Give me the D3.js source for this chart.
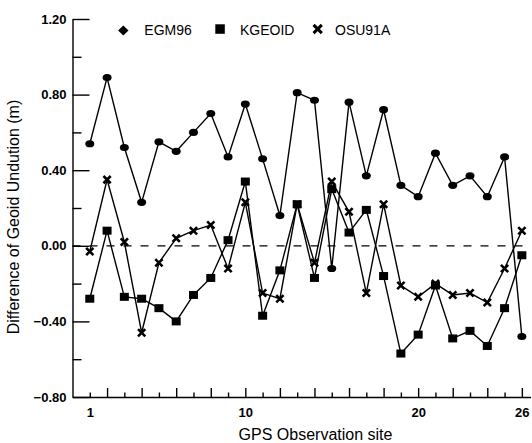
<!DOCTYPE html>
<html>
<head>
<meta charset="utf-8">
<script src="https://cdn.jsdelivr.net/npm/d3@7"></script>
<style>
  body { margin: 0; background: #fff; }
  svg { display: block; font-family: "Liberation Sans", Arial, sans-serif; }
  .axis path, .axis line { stroke: #000; stroke-width: 1.4; }
  .axis text { font-size: 13px; font-weight: bold; fill: #000; font-family: "Liberation Sans", Arial, sans-serif; }
  .line { fill: none; stroke: #000; stroke-width: 1.4; }
</style>
</head>
<body>
<svg id="chart"></svg>
<script>

// data (difference in metres, per GPS site)
const sites = d3.range(1, 27);
const egm96 = [0.54, 0.89, 0.52, 0.23, 0.55, 0.50, 0.60, 0.70, 0.47, 0.75, 0.46, 0.16, 0.81,
               0.77, -0.12, 0.76, 0.37, 0.72, 0.32, 0.26, 0.49, 0.32, 0.37, 0.26, 0.47, -0.48];
const kgeoid = [-0.28, 0.08, -0.27, -0.28, -0.33, -0.40, -0.26, -0.17, 0.03, 0.34, -0.37, -0.13, 0.22,
                -0.17, 0.30, 0.07, 0.19, -0.16, -0.57, -0.47, -0.21, -0.49, -0.45, -0.53, -0.33, -0.05];
const osu91a = [-0.03, 0.35, 0.02, -0.46, -0.09, 0.04, 0.08, 0.11, -0.12, 0.23, -0.25, -0.28, 0.22,
                -0.09, 0.34, 0.18, -0.25, 0.22, -0.21, -0.27, -0.20, -0.26, -0.25, -0.30, -0.12, 0.08];

const seriesNames = ["EGM96", "KGEOID", "OSU91A"];
const xLabelSites = [1, 10, 20, 26];
const yTicks = [-0.8, -0.6, -0.4, -0.2, 0, 0.2, 0.4, 0.6, 0.8, 1.0, 1.2];
const yLabelTicks = [-0.8, -0.4, 0, 0.4, 0.8, 1.2];

const width = 532, height = 443;

const svg = d3.select("#chart")
  .attr("width", width)
  .attr("height", height);

const xScale = d3.scaleLinear().domain([0, 26.5]).range([72.5, 530.5]);
const yScale = d3.scaleLinear().domain([-0.8, 1.2]).range([397, 19]);

// zero reference line
svg.append("line")
  .attr("x1", xScale(0)).attr("x2", xScale(26.5))
  .attr("y1", yScale(0)).attr("y2", yScale(0))
  .attr("stroke", "#000")
  .attr("stroke-width", 1.3)
  .attr("stroke-dasharray", "8,9");

// x axis, ticks point inwards, even sites get the long tick
const xAxis = svg.append("g")
  .attr("class", "x axis")
  .attr("transform", "translate(0," + yScale(-0.8) + ")")
  .call(d3.axisBottom(xScale)
    .tickValues(sites)
    .tickSizeInner(-9)
    .tickSizeOuter(0)
    .tickPadding(11)
    .tickFormat(d => xLabelSites.includes(d) ? d : ""));
xAxis.selectAll(".tick line")
  .attr("y2", d => d % 2 === 0 ? -9 : -4.5);

// y axis
const yAxis = svg.append("g")
  .attr("class", "y axis")
  .attr("transform", "translate(" + xScale(0) + ",0)")
  .call(d3.axisLeft(yScale)
    .tickValues(yTicks)
    .tickSizeInner(-17)
    .tickSizeOuter(0)
    .tickPadding(6)
    .tickFormat(d => yLabelTicks.some(v => Math.abs(v - d) < 1e-9) ? d3.format(".2f")(d) : ""));
yAxis.selectAll(".tick line")
  .attr("x2", d => yLabelTicks.some(v => Math.abs(v - d) < 1e-9) ? 17 : 9);

const line = d3.line()
  .x(d => xScale(d.site))
  .y(d => yScale(d.value));

const values = {
  EGM96: egm96.map((v, i) => ({site: sites[i], value: v})),
  KGEOID: kgeoid.map((v, i) => ({site: sites[i], value: v})),
  OSU91A: osu91a.map((v, i) => ({site: sites[i], value: v}))
};

seriesNames.forEach(name => {
  svg.append("path")
    .datum(values[name])
    .attr("class", "line")
    .attr("d", line);
});

// markers
svg.selectAll("circle.egm")
  .data(values.EGM96).enter()
  .append("ellipse")
    .attr("cx", d => xScale(d.site))
    .attr("cy", d => yScale(d.value))
    .attr("rx", 4.5)
    .attr("ry", 3.6)
    .attr("fill", "#000");

svg.selectAll("rect.kg")
  .data(values.KGEOID).enter()
  .append("rect")
    .attr("x", d => xScale(d.site) - 4.5)
    .attr("y", d => yScale(d.value) - 4)
    .attr("width", 9)
    .attr("height", 8)
    .attr("fill", "#000");

const cross = d3.symbol().type(d3.symbolX).size(36);
svg.selectAll("path.osu")
  .data(values.OSU91A).enter()
  .append("path")
    .attr("d", cross)
    .attr("transform", d => "translate(" + xScale(d.site) + "," + yScale(d.value) + ")")
    .attr("fill", "none")
    .attr("stroke", "#000")
    .attr("stroke-width", 2.6);

// legend
const legend = svg.append("g")
  .style("font-size", "14px");

legend.append("path")
  .attr("d", "M123.3,25.5 L128.5,30.5 L123.3,35.5 L118.1,30.5 Z")
  .attr("fill", "#000");
legend.append("rect")
  .attr("x", 215.3).attr("y", 24.3)
  .attr("width", 9.5).attr("height", 9.5)
  .attr("fill", "#000");
legend.append("path")
  .attr("d", d3.symbol().type(d3.symbolX).size(46))
  .attr("transform", "translate(317.7,29)")
  .attr("fill", "none")
  .attr("stroke", "#000")
  .attr("stroke-width", 3);

[["EGM96", 144.3], ["KGEOID", 240], ["OSU91A", 335]].forEach(t => {
  legend.append("text")
    .attr("x", t[1])
    .attr("y", 35)
    .text(t[0]);
});

// axis titles
svg.append("text")
  .attr("x", 315.5)
  .attr("y", 440)
  .attr("text-anchor", "middle")
  .style("font-size", "16px")
  .text("GPS Observation site");

svg.append("text")
  .attr("transform", "translate(18.5,217) rotate(-90)")
  .attr("text-anchor", "middle")
  .style("font-size", "16px")
  .text("Difference of Geoid Undution (m)");

</script>
</body>
</html>
